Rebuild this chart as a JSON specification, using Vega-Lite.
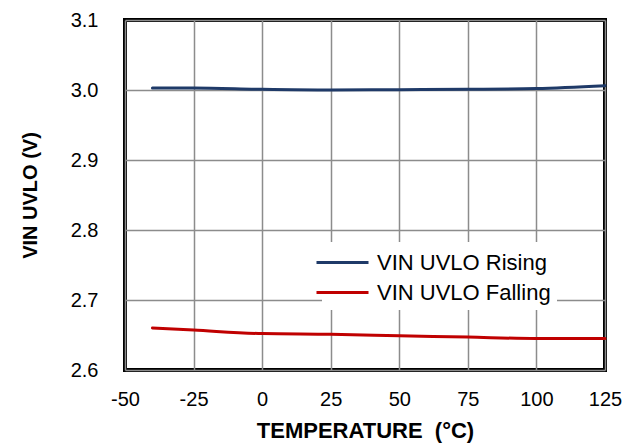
{
  "$schema": "https://vega.github.io/schema/vega-lite/v6.json",
  "autosize": "none",
  "padding": {"left": 125, "top": 20, "right": 29, "bottom": 76},
  "width": 480,
  "height": 350,
  "config": {
    "view": {"stroke": "#000000", "strokeWidth": 4},
    "font": "Liberation Sans"
  },
  "data": {
    "values": [
      {"t": -40, "v": 3.003, "s": "VIN UVLO Rising"},
      {"t": -25, "v": 3.003, "s": "VIN UVLO Rising"},
      {"t": 0, "v": 3.001, "s": "VIN UVLO Rising"},
      {"t": 25, "v": 3.0, "s": "VIN UVLO Rising"},
      {"t": 50, "v": 3.0005, "s": "VIN UVLO Rising"},
      {"t": 75, "v": 3.001, "s": "VIN UVLO Rising"},
      {"t": 100, "v": 3.002, "s": "VIN UVLO Rising"},
      {"t": 125, "v": 3.006, "s": "VIN UVLO Rising"},
      {"t": -40, "v": 2.660, "s": "VIN UVLO Falling"},
      {"t": -25, "v": 2.657, "s": "VIN UVLO Falling"},
      {"t": 0, "v": 2.652, "s": "VIN UVLO Falling"},
      {"t": 25, "v": 2.651, "s": "VIN UVLO Falling"},
      {"t": 50, "v": 2.649, "s": "VIN UVLO Falling"},
      {"t": 75, "v": 2.647, "s": "VIN UVLO Falling"},
      {"t": 100, "v": 2.645, "s": "VIN UVLO Falling"},
      {"t": 125, "v": 2.645, "s": "VIN UVLO Falling"}
    ]
  },
  "mark": {"type": "line", "strokeWidth": 3, "interpolate": "monotone", "strokeCap": "round"},
  "encoding": {
    "x": {
      "field": "t", "type": "quantitative",
      "scale": {"domain": [-50, 125], "nice": false, "zero": false},
      "axis": {
        "values": [-50, -25, 0, 25, 50, 75, 100, 125],
        "labelExpr": "'' + datum.value",
        "labelOverlap": false,
        "labelFlush": false,
        "title": "TEMPERATURE \u00a0(°C)",
        "titleFont": "Liberation Sans", "titleFontSize": 22, "titleFontWeight": "bold", "titleColor": "#000",
        "titlePadding": 11,
        "labelFont": "Liberation Sans", "labelFontSize": 20, "labelColor": "#000",
        "labelPadding": 19,
        "domain": false, "ticks": false,
        "grid": true, "gridColor": "#8c8c8c", "gridWidth": 1.5
      }
    },
    "y": {
      "field": "v", "type": "quantitative",
      "scale": {"domain": [2.6, 3.1], "nice": false, "zero": false},
      "axis": {
        "values": [2.6, 2.7, 2.8, 2.9, 3.0, 3.1],
        "format": ".1f",
        "labelOverlap": false,
        "title": "VIN UVLO (V)",
        "titleFont": "Liberation Sans", "titleFontSize": 20, "titleFontWeight": "bold", "titleColor": "#000",
        "titlePadding": 30,
        "labelFont": "Liberation Sans", "labelFontSize": 20, "labelColor": "#000",
        "labelPadding": 27,
        "domain": false, "ticks": false,
        "grid": true, "gridColor": "#8c8c8c", "gridWidth": 1.5
      }
    },
    "color": {
      "field": "s", "type": "nominal",
      "scale": {"domain": ["VIN UVLO Rising", "VIN UVLO Falling"], "range": ["#1f3a68", "#c00000"]},
      "legend": {
        "orient": "none", "legendX": 197, "legendY": 222,
        "title": null,
        "symbolType": "M-2,0H2", "symbolSize": 676, "symbolStrokeWidth": 3,
        "symbolFillColor": "transparent",
        "labelFont": "Liberation Sans", "labelFontSize": 22, "labelColor": "#000",
        "labelLimit": 400,
        "fillColor": "#ffffff", "padding": 6, "rowPadding": 4,
        "labelOffset": 20
      }
    }
  }
}
